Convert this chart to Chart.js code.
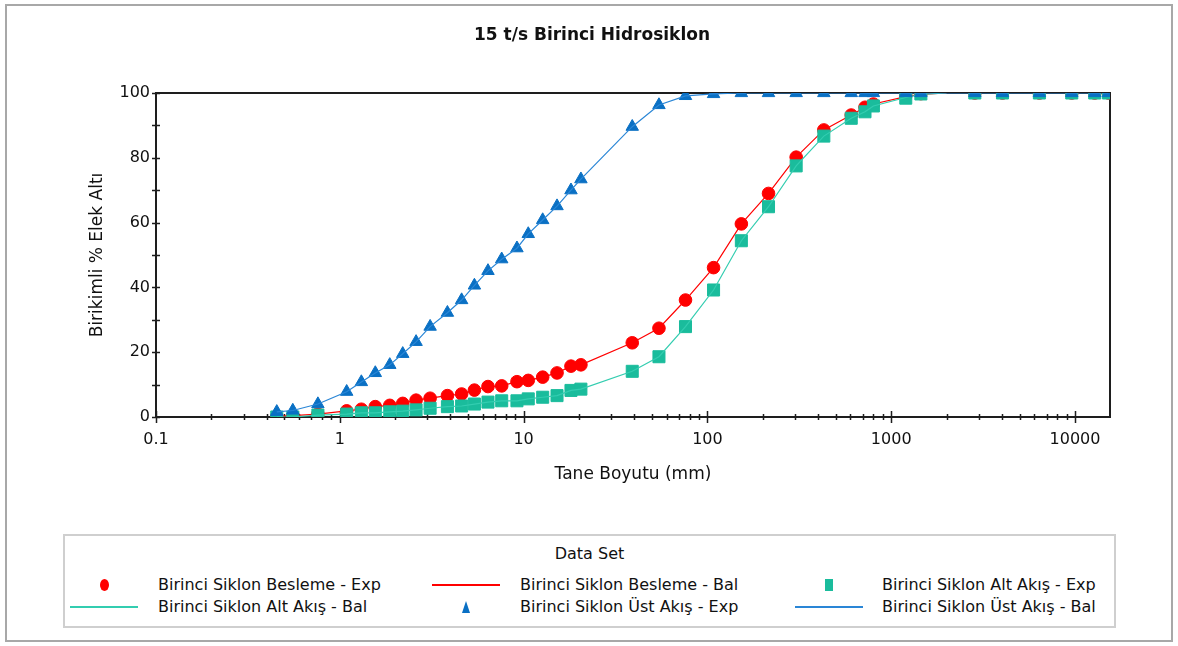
<!DOCTYPE html>
<html><head><meta charset="utf-8">
<script src="https://cdn.jsdelivr.net/npm/chart.js@4.4.1/dist/chart.umd.min.js"></script>
<style>
html,body{margin:0;padding:0;background:#fff;}
body{width:1178px;height:646px;position:relative;overflow:hidden;font-family:"DejaVu Sans",sans-serif;}
#frame{position:absolute;left:5px;top:4px;width:1168px;height:638px;border:2px solid #a8a8a8;box-sizing:border-box;}
#wrap{position:absolute;left:0;top:0;width:1178px;height:500px;}
#legend{position:absolute;left:63px;top:534px;width:1053px;height:94px;border:2px solid #cfcfcf;box-sizing:border-box;color:#111;font-size:16px;}
#legend .ttl{position:absolute;left:0;right:0;top:8px;text-align:center;}
#legend .txt{position:absolute;white-space:nowrap;line-height:20px;}
#legend .sym{position:absolute;}
</style>
</head><body>
<div id="frame"></div>
<div id="wrap"><canvas id="c" width="1178" height="500"></canvas></div>
<div id="legend"><div class="ttl">Data Set</div></div>
<script>
// ---- data ----
const TITLE = "15 t/s Birinci Hidrosiklon";
const X_TITLE = "Tane Boyutu (mm)";
const Y_TITLE = "Birikimli % Elek Altı";
const sizes = [0.454,0.555,0.76,1.09,1.31,1.56,1.87,2.2,2.6,3.1,3.85,4.6,5.4,6.4,7.6,9.2,10.6,12.7,15.2,18.1,20.5,39,54.5,76,108,153,215,304,430,606,720,800,1200,1450,2850,4030,6400,9600,12800,15200];
const beslemeExp = [0.2,0.4,0.9,1.9,2.4,3.2,3.6,4.2,5.2,5.8,6.6,7.1,8.3,9.4,9.6,10.9,11.3,12.3,13.6,15.7,16.1,22.9,27.4,36.1,46.1,59.6,69,80.2,88.6,93.2,95.6,96.6,99.2,99.8,100,100,100,100,100,100];
const altExp = [0,0,0.6,0.9,1.3,1.3,1.6,1.8,2.2,2.7,3.2,3.4,4.0,4.6,5.0,5.0,5.6,6.1,6.6,8.2,8.6,14.1,18.6,27.9,39.2,54.4,64.9,77.5,86.7,92.2,94.2,96,98.4,99.7,100,100,100,100,100,100];
const ustExp = [1.6,2,4,7.8,10.8,13.6,16.1,19.5,23.2,27.9,32.2,36.1,40.6,45.1,48.7,52.1,56.5,60.8,65.1,70,73.4,89.6,96.3,99.1,99.7,100,100,100,100,100,100,100,100,100,100,100,100,100,100,100];
const balSizes = [0.454,0.555,0.76,1.09,1.31,1.56,1.87,2.2,2.6,3.1,3.85,4.6,5.4,6.4,7.6,9.2,10.6,12.7,15.2,18.1,20.5,39,54.5,76,108,153,215,304,430,606,720,800,1200,1450,2000];
const beslemeBal = [0.2,0.4,0.9,1.9,2.4,3.2,3.6,4.2,5.2,5.8,6.6,7.1,8.3,9.4,9.6,10.9,11.3,12.3,13.6,15.7,16.1,22.9,27.4,36.1,46.1,59.6,69,80.2,88.6,93.2,95.6,96.6,98.9,99.6,100];
const altBal = [0,0,0.6,0.9,1.3,1.3,1.6,1.8,2.2,2.7,3.2,3.4,4.0,4.6,5.0,5.0,5.6,6.1,6.6,8.2,8.6,14.1,18.6,27.9,39.2,54.4,64.9,77.5,86.7,92.2,94.2,96,98.6,99.6,100];
const ustBal = [1.6,2,4,7.8,10.8,13.6,16.1,19.5,23.2,27.9,32.2,36.1,40.6,45.1,48.7,52.1,56.5,60.8,65.1,70,73.4,89.6,96.3,99.1,99.7,100,100,100,100,100,100,100,100,100,100,100,100,100,100,100];
const seriesLabels = ["Birinci Siklon Besleme - Exp","Birinci Siklon Besleme - Bal","Birinci Siklon Alt Akış - Exp","Birinci Siklon Alt Akış - Bal","Birinci Siklon Üst Akış - Exp","Birinci Siklon Üst Akış - Bal"];
const X_MIN = 0.1, X_MAX = 15500;

const RED = '#ff0000', TEAL = '#1abc9c', TEAL_LINE = '#33cdb0', BLUE = '#0a70c4', BLUE_LINE = '#2a86d6';
const pts = (xs, ys) => xs.map((x,i)=>({x, y: ys[i]}));

const datasets = [
  {label: seriesLabels[0], data: pts(sizes, beslemeExp), showLine:false, pointStyle:'circle', pointRadius:6.3, pointBackgroundColor:RED, pointBorderColor:RED, pointBorderWidth:1, order:5, legendKind:'circle', legendColor:RED},
  {label: seriesLabels[1], data: pts(balSizes, beslemeBal), showLine:true, borderColor:RED, borderWidth:1.2, pointRadius:0, order:4, legendKind:'line', legendColor:RED},
  {label: seriesLabels[2], data: pts(sizes, altExp), showLine:false, pointStyle:'rect', pointRadius:8.5, pointBackgroundColor:TEAL, pointBorderColor:TEAL, pointBorderWidth:1, order:3, legendKind:'rect', legendColor:TEAL},
  {label: seriesLabels[3], data: pts(balSizes, altBal), showLine:true, borderColor:TEAL_LINE, borderWidth:1.2, pointRadius:0, order:2, legendKind:'line', legendColor:TEAL_LINE},
  {label: seriesLabels[4], data: pts(sizes, ustExp), showLine:false, pointStyle:'triangle', pointRadius:7.2, pointBackgroundColor:BLUE, pointBorderColor:BLUE, pointBorderWidth:1, order:1, legendKind:'triangle', legendColor:BLUE},
  {label: seriesLabels[5], data: pts(sizes, ustBal), showLine:true, borderColor:BLUE_LINE, borderWidth:1.2, pointRadius:0, order:0, legendKind:'line', legendColor:BLUE_LINE}
];

const frameTicks = {
  id:'frameTicks',
  beforeDatasetsDraw(chart){
    const {ctx, chartArea:a, scales:{x, y}} = chart;
    ctx.save();
    ctx.strokeStyle = '#1e1e1e';
    ctx.lineWidth = 2;
    ctx.strokeRect(a.left, a.top, a.right - a.left, a.bottom - a.top);
    ctx.lineWidth = 1.5;
    ctx.beginPath();
    x.ticks.forEach(t => {
      const px = Math.round(x.getPixelForValue(t.value)) + 0.5;
      const h = t.major ? 6 : 3;
      ctx.moveTo(px, a.bottom - h); ctx.lineTo(px, a.bottom + h);
    });
    y.ticks.forEach(t => {
      const py = Math.round(y.getPixelForValue(t.value)) + 0.5;
      ctx.moveTo(a.left - 4, py); ctx.lineTo(a.left + 4, py);
    });
    ctx.stroke();
    ctx.restore();
  }
};

const FONT = {family:'"DejaVu Sans", sans-serif', size:16};
const TFONT = {family:'"DejaVu Sans", sans-serif', size:17};
const chart = new Chart(document.getElementById('c'), {
  type:'scatter',
  data:{datasets},
  options:{
    responsive:false, animation:false,
    layout:{padding:{left:6, right:0, top:0, bottom:0}},
    plugins:{
      legend:{display:false}, tooltip:{enabled:false},
      title:{display:true, text:TITLE, color:'#111', font:{family:FONT.family, size:17, weight:'bold'}, padding:{top:25, bottom:47.6}}
    },
    scales:{
      x:{type:'logarithmic', min:X_MIN, max:X_MAX,
        border:{display:false}, grid:{display:false, drawTicks:false},
        afterBuildTicks(scale){
          const t=[];
          for(let e=-1;e<=4;e++) for(let m=1;m<=9;m++){
            const v = parseFloat((m*Math.pow(10,e)).toPrecision(6));
            if(v>=X_MIN-1e-9 && v<=X_MAX) t.push({value:v, major:m===1});
          }
          scale.ticks = t;
        },
        afterFit(scale){ scale.height = 83; },
        ticks:{autoSkip:false, maxRotation:0, padding:13, color:'#111', font:FONT,
          callback(v){ const l=Math.log10(v); return Math.abs(l-Math.round(l))<1e-9 ? String(v) : ''; }},
        title:{display:true, text:X_TITLE, color:'#111', font:TFONT, padding:{top:0,bottom:15}}
      },
      y:{min:0, max:100,
        border:{display:false}, grid:{display:false, drawTicks:false},
        afterFit(scale){ scale.width = 150; },
        ticks:{stepSize:10, padding:6, color:'#111', font:FONT,
          callback(v){ return v%20===0 ? String(v) : ''; }},
        title:{display:true, text:Y_TITLE, color:'#111', font:TFONT, padding:{top:81, bottom:0}}
      },
      yRightSpace:{position:'right', display:true, min:0, max:100,
        border:{display:false}, grid:{display:false, drawTicks:false},
        ticks:{display:false},
        afterFit(scale){ scale.width = 68; }
      }
    }
  },
  plugins:[frameTicks]
});

// HTML legend generated from the datasets
const legend = document.getElementById('legend');
const colSym = [5, 367, 730];   // symbol area left (inside legend box)
const colTxt = [93, 455, 817];
const rowY = [49, 71];
chart.data.datasets.forEach((ds, i) => {
  const r = Math.floor(i/3), c = i%3;
  const cy = rowY[r];
  const txt = document.createElement('div');
  txt.className='txt'; txt.textContent = ds.label;
  txt.style.left = colTxt[c]+'px'; txt.style.top = (cy-10)+'px';
  legend.appendChild(txt);
  const s = document.createElement('div'); s.className='sym';
  const cx = colSym[c] + 34;
  if(ds.legendKind==='line'){
    s.style.cssText += `left:${colSym[c]}px;top:${cy-1}px;width:68px;height:2px;background:${ds.legendColor};`;
  } else if(ds.legendKind==='circle'){
    s.style.cssText += `left:${cx-4.5}px;top:${cy-6}px;width:9px;height:12px;border-radius:50%;background:${ds.legendColor};`;
  } else if(ds.legendKind==='rect'){
    s.style.cssText += `left:${cx-4}px;top:${cy-6}px;width:8px;height:12px;background:${ds.legendColor};`;
  } else {
    s.style.cssText += `left:${cx-4.5}px;top:${cy-6}px;width:0;height:0;border-left:4.5px solid transparent;border-right:4.5px solid transparent;border-bottom:12px solid ${ds.legendColor};`;
  }
  legend.appendChild(s);
});
</script>
</body></html>
